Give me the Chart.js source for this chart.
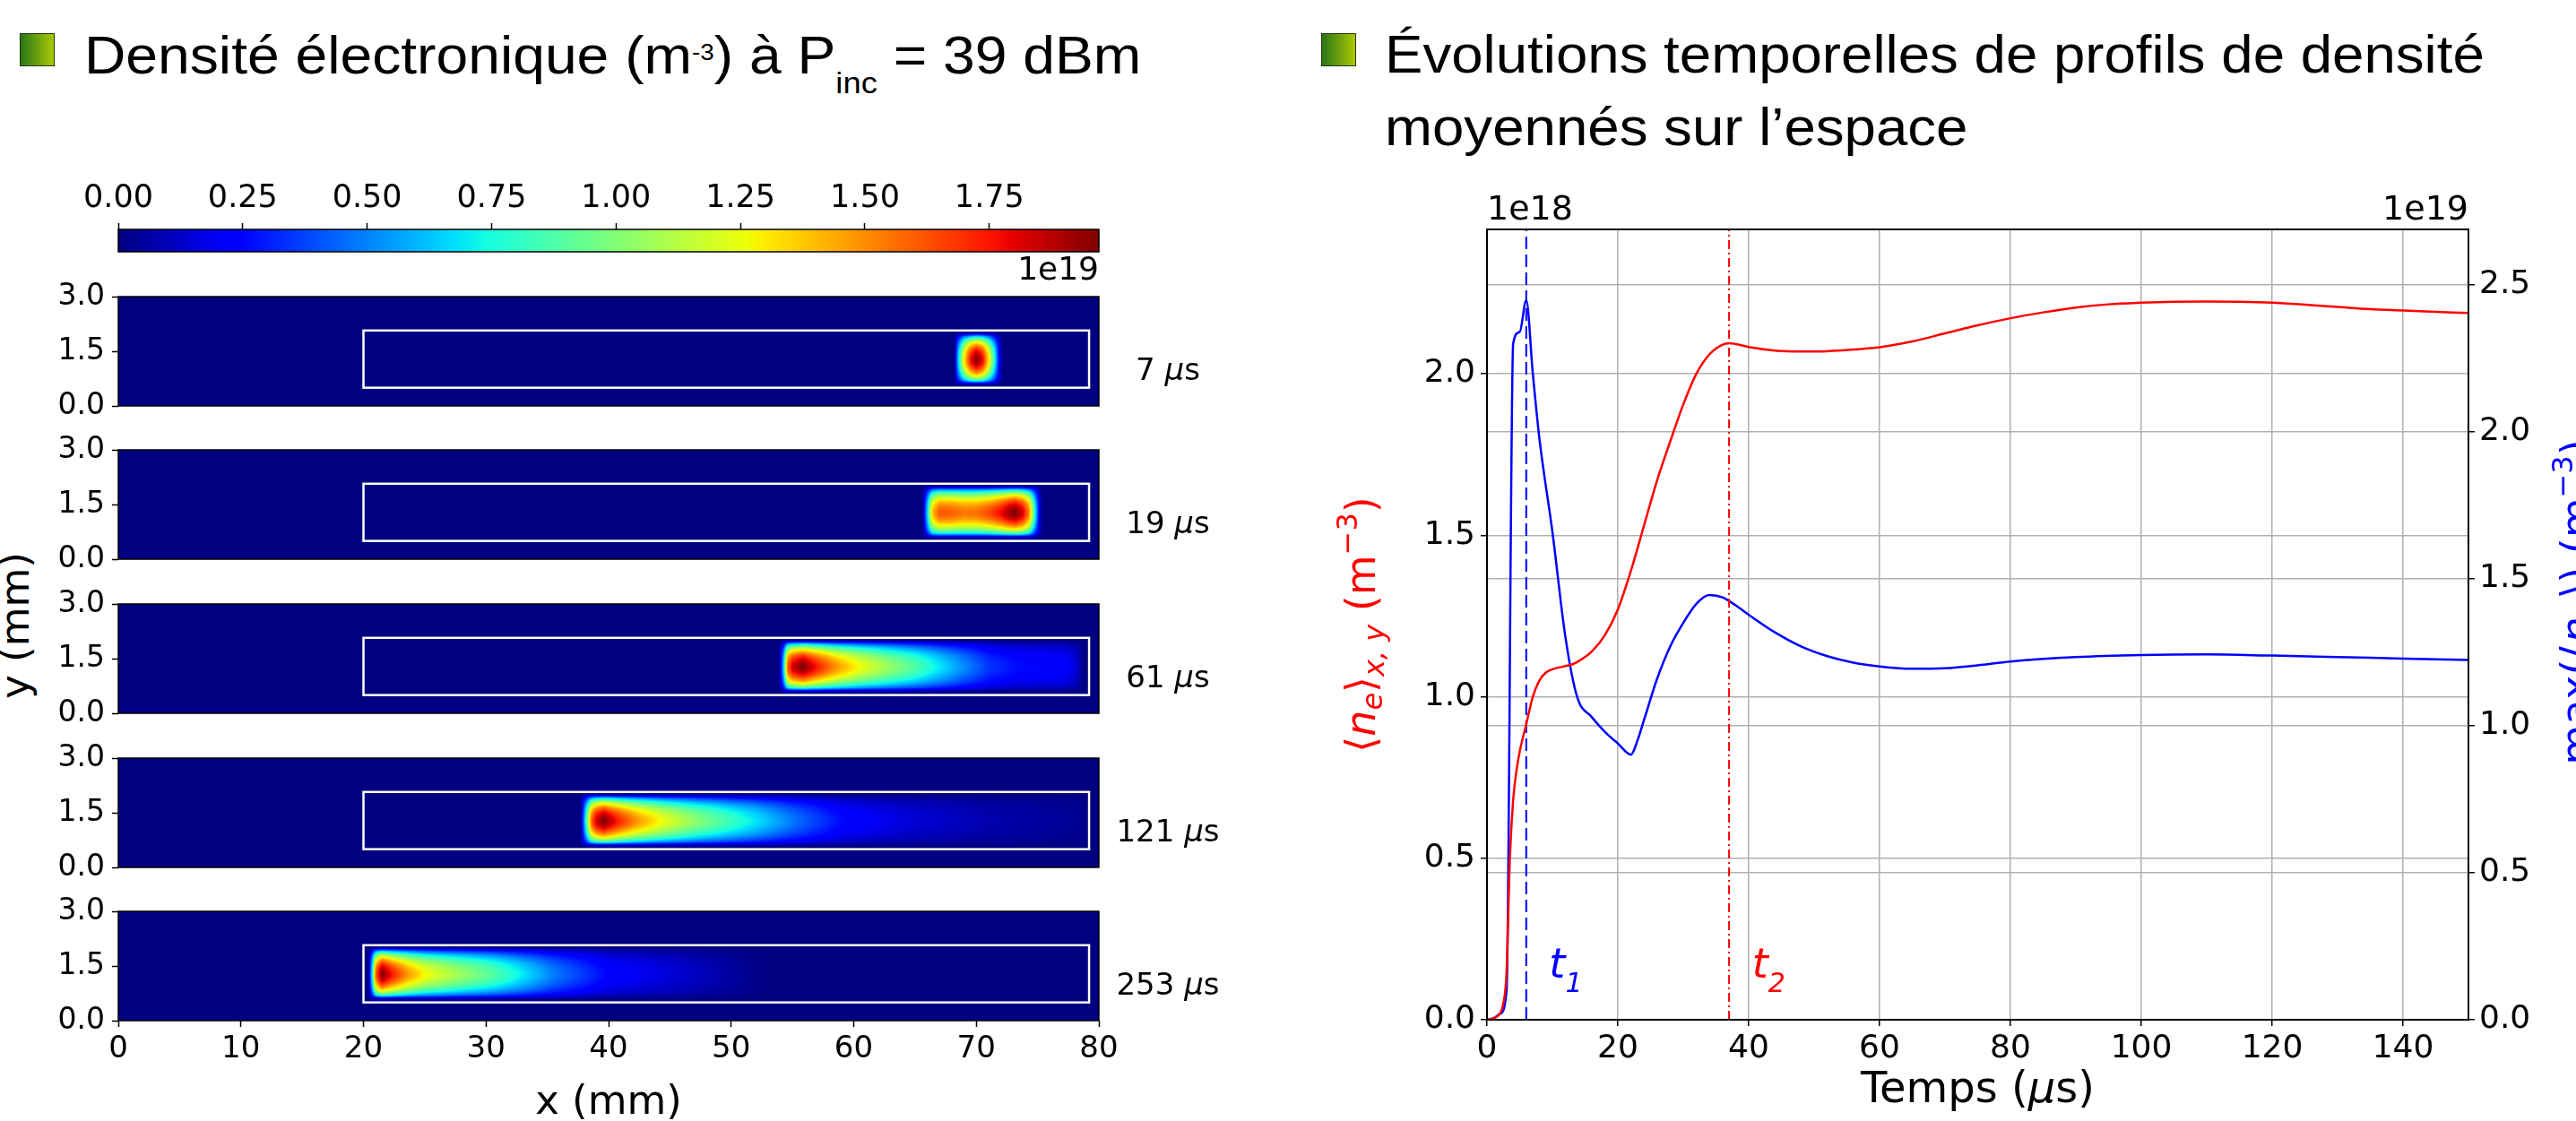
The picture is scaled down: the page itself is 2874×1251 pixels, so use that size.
<!DOCTYPE html>
<html>
<head>
<meta charset="utf-8">
<script src="https://cdn.jsdelivr.net/npm/chart.js@4.4.1/dist/chart.umd.min.js"></script>
<style>
  body { margin: 0; width: 2874px; height: 1251px; overflow: hidden; background: #fff; position: relative; font-family: 'Liberation Sans', Arial, sans-serif; }
  canvas { position: absolute; }
  .bullet { position: absolute; width: 37px; height: 35px; border: 1px solid #26330f; background: linear-gradient(to right, #2c761b, #a9c902); }
  .head { position: absolute; font-size: 60px; line-height: 81px; white-space: nowrap; color: #000; transform-origin: left top; }
  .sup { font-size: 26px; position: relative; top: -15px; }
  .sub { font-size: 34px; position: relative; top: 22px; color: #000; }
  .ylab { position: absolute; left: 16px; top: 698px; transform: translate(-50%, -50%) rotate(-90deg); font: 45px 'DejaVu Sans', sans-serif; white-space: nowrap; }
</style>
</head>
<body>
<div class="bullet" style="left:22px; top:37px;"></div>
<div class="head" style="left:94px; top:21px; transform:scaleX(1.07);">Densité électronique (m<span class="sup">-3</span>) à P<span class="sub">inc</span> = 39 dBm</div>
<div class="bullet" style="left:1474px; top:37px;"></div>
<div class="head" style="left:1545px; top:20px; transform:scaleX(1.06);">Évolutions temporelles de profils de densité<br>moyennés sur l’espace</div>
<div class="ylab">y (mm)</div>

<canvas id="colorbar" width="1400" height="150" style="left:0; top:180px; width:1400px; height:150px;"></canvas>
<canvas id="panel0" width="1400" height="182" style="left:0; top:301px; width:1400px; height:182px;"></canvas>
<canvas id="panel1" width="1400" height="182" style="left:0; top:472px; width:1400px; height:182px;"></canvas>
<canvas id="panel2" width="1400" height="182" style="left:0; top:644px; width:1400px; height:182px;"></canvas>
<canvas id="panel3" width="1400" height="182" style="left:0; top:816px; width:1400px; height:182px;"></canvas>
<canvas id="panel4" width="1400" height="264" style="left:0; top:987px; width:1400px; height:264px;"></canvas>
<canvas id="timeChart" width="1434" height="1071" style="left:1440px; top:180px; width:1434px; height:1071px;"></canvas>

<script>
// Colour scale (1e19 m^-3)
const colorMax = 1.97;
const colorTicks = [0, 0.25, 0.5, 0.75, 1.0, 1.25, 1.5, 1.75];

// Heatmap axes (mm)
const panelXTicks = [0, 10, 20, 30, 40, 50, 60, 70, 80];
const panelYTicks = [0, 1.5, 3.0];
const boxX = [20, 79.2];
const boxY = [0.5, 2.07];

// Vertical density profile across the guide (relative)
const profileY = [0.5, 0.6, 0.7, 0.8, 0.9, 1.0, 1.1, 1.2, 1.3, 1.4, 1.5, 1.6, 1.7, 1.8, 1.9, 2.0, 2.1];
const profileV = [0, 0.05, 0.42, 0.62, 0.76, 0.86, 0.94, 0.99, 1.0, 0.97, 0.92, 0.84, 0.72, 0.57, 0.35, 0.02, 0];

// Density along the axis for each snapshot (x in mm, n in 1e19 m^-3)
const x7us = [68.2, 68.5, 69.0, 69.5, 70.0, 70.5, 71.0, 71.5, 71.9, 72.2];
const n7us = [0, 0.6, 1.3, 1.75, 1.97, 1.8, 1.35, 0.75, 0.2, 0];
const x19us = [65.6, 66.0, 66.4, 67.0, 68, 69, 70, 71, 72, 72.7, 73.2, 73.8, 74.3, 74.8, 75.2, 75.5];
const n19us = [0, 0.65, 1.38, 1.62, 1.6, 1.55, 1.56, 1.64, 1.78, 1.92, 1.97, 1.82, 1.52, 0.74, 0.12, 0];
const x61us = [53.9, 54.3, 54.6, 55.0, 55.85, 57.1, 58.6, 60.5, 62.5, 64.9, 66.4, 68.6, 71.0, 73.5, 77.1, 78.1, 78.8];
const n61us = [0, 0.69, 1.58, 1.83, 1.97, 1.73, 1.48, 1.26, 1.08, 0.89, 0.75, 0.55, 0.35, 0.26, 0.24, 0.16, 0];
const x121us = [37.7, 38.1, 38.6, 39.0, 39.6, 40.8, 42.2, 44.3, 47.1, 49.9, 52.0, 55.1, 59.0, 63.8, 70.8, 77.7, 79.0, 79.3];
const n121us = [0, 0.69, 1.58, 1.83, 1.97, 1.73, 1.50, 1.26, 1.02, 0.83, 0.69, 0.47, 0.26, 0.16, 0.08, 0.04, 0.02, 0];
const x253us = [20.4, 20.7, 21.0, 21.5, 22.4, 23.6, 25.1, 27.6, 30.6, 32.6, 35.5, 39.8, 45.6, 50.8, 53];
const n253us = [0, 0.69, 1.58, 1.97, 1.73, 1.48, 1.26, 1.08, 0.89, 0.73, 0.49, 0.25, 0.14, 0.04, 0];

const panels = [
    { label: '7', xs: x7us, ns: n7us },
    { label: '19', xs: x19us, ns: n19us },
    { label: '61', xs: x61us, ns: n61us },
    { label: '121', xs: x121us, ns: n121us },
    { label: '253', xs: x253us, ns: n253us }
];

// Time evolution (t in µs)
const tMean = [0, 1, 2, 2.5, 3, 3.5, 4, 4.5, 5, 6, 7, 8, 9, 10, 12, 13, 14, 16, 18, 20, 22, 24, 26, 28, 30, 32, 34, 36, 37, 38, 40, 44, 48, 52, 56, 60, 65, 70, 75, 80, 85, 90, 95, 100, 105, 110, 115, 120, 125, 130, 135, 140, 145, 150];
const nMean = [0, 0.005, 0.02, 0.05, 0.15, 0.5, 0.68, 0.77, 0.83, 0.915, 1.0, 1.05, 1.075, 1.085, 1.095, 1.1, 1.11, 1.14, 1.19, 1.27, 1.39, 1.53, 1.67, 1.79, 1.905, 2.0, 2.06, 2.09, 2.095, 2.092, 2.083, 2.072, 2.069, 2.07, 2.075, 2.082, 2.1, 2.125, 2.15, 2.172, 2.19, 2.205, 2.215, 2.22, 2.223, 2.224, 2.223, 2.22, 2.214, 2.207, 2.2, 2.196, 2.192, 2.188];
const tMax = [0, 1, 2, 3, 4, 5, 6, 7, 8, 10, 12, 13.8, 16, 18, 20, 22, 23, 24, 26, 28, 30, 32, 34, 36, 38, 40, 44, 48, 52, 56, 60, 65, 70, 75, 80, 90, 100, 110, 120, 130, 140, 150];
const nMax = [0, 0.005, 0.02, 0.1, 2.3, 2.34, 2.448, 2.2, 1.98, 1.66, 1.3, 1.097, 1.03, 0.98, 0.94, 0.902, 0.95, 1.02, 1.16, 1.27, 1.35, 1.415, 1.445, 1.437, 1.41, 1.378, 1.318, 1.27, 1.237, 1.215, 1.202, 1.194, 1.196, 1.206, 1.219, 1.234, 1.241, 1.243, 1.239, 1.234, 1.229, 1.224];
const markerTimes = [6, 37];
const markerNames = ['1', '2'];
const timeTicks = [0, 20, 40, 60, 80, 100, 120, 140];
const meanTicks = [0, 0.5, 1.0, 1.5, 2.0];
const maxTicks = [0, 0.5, 1.0, 1.5, 2.0, 2.5];
const timeMax = 150;
const meanMax = 2.447;
const maxMax = 2.689;

Chart.defaults.font.family = "'DejaVu Sans', sans-serif";
Chart.defaults.color = '#000';

// matplotlib jet colormap
const jetR = [[0, 0], [0.35, 0], [0.66, 1], [0.89, 1], [1, 0.5]];
const jetG = [[0, 0], [0.125, 0], [0.375, 1], [0.64, 1], [0.91, 0], [1, 0]];
const jetB = [[0, 0.5], [0.11, 1], [0.34, 1], [0.65, 0], [1, 0]];
function channel(segs, v) {
    for (let i = 1; i < segs.length; i++) {
        if (v <= segs[i][0]) {
            const f = (v - segs[i - 1][0]) / (segs[i][0] - segs[i - 1][0]);
            return segs[i - 1][1] + f * (segs[i][1] - segs[i - 1][1]);
        }
    }
    return segs[segs.length - 1][1];
}
function jet(v) {
    v = Math.max(0, Math.min(1, v));
    return [channel(jetR, v) * 255, channel(jetG, v) * 255, channel(jetB, v) * 255];
}

function lookup(xs, vs, x) {
    if (x <= xs[0]) return vs[0];
    if (x >= xs[xs.length - 1]) return vs[vs.length - 1];
    for (let i = 1; i < xs.length; i++) {
        if (x <= xs[i]) {
            const f = (x - xs[i - 1]) / (xs[i] - xs[i - 1]);
            return vs[i - 1] + f * (vs[i] - vs[i - 1]);
        }
    }
    return 0;
}

// Draw text made of several pieces (italic, sub/superscripts)
function drawRich(ctx, parts, x, y, align) {
    let total = 0;
    parts.forEach(p => {
        ctx.font = (p.i ? 'italic ' : '') + p.s + "px 'DejaVu Sans'";
        p.w = ctx.measureText(p.t).width;
        total += p.w;
    });
    let cx = align === 'center' ? x - total / 2 : (align === 'right' ? x - total : x);
    ctx.textAlign = 'left';
    ctx.textBaseline = 'alphabetic';
    parts.forEach(p => {
        ctx.font = (p.i ? 'italic ' : '') + p.s + "px 'DejaVu Sans'";
        ctx.fillText(p.t, cx, y + (p.dy || 0));
        cx += p.w;
    });
}

function drawFrame(ctx, a, width) {
    ctx.save();
    ctx.strokeStyle = '#000';
    ctx.lineWidth = width;
    ctx.strokeRect(a.left, a.top, a.right - a.left, a.bottom - a.top);
    ctx.restore();
}

// Colorbar
const colorbarPlugin = {
    id: 'colorbar',
    beforeDatasetsDraw(chart) {
        const { ctx, chartArea: a, scales } = chart;
        for (let px = Math.floor(a.left); px < a.right; px++) {
            const c = jet(scales.x.getValueForPixel(px + 0.5) / colorMax);
            ctx.fillStyle = `rgb(${c[0]},${c[1]},${c[2]})`;
            ctx.fillRect(px, a.top, 1, a.bottom - a.top);
        }
        drawFrame(ctx, a, 1.5);
        ctx.save();
        ctx.fillStyle = '#000';
        ctx.font = "36px 'DejaVu Sans'";
        ctx.textAlign = 'right';
        ctx.textBaseline = 'middle';
        ctx.fillText('1e19', a.right, a.bottom + 22);
        ctx.restore();
    }
};

new Chart(document.getElementById('colorbar'), {
    type: 'scatter',
    data: { datasets: [] },
    options: {
        responsive: false, animation: false, devicePixelRatio: 1,
        layout: { padding: { top: 0, left: 132, right: 174, bottom: 49 } },
        plugins: { legend: { display: false }, tooltip: { enabled: false } },
        scales: {
            x: {
                type: 'linear', position: 'top', min: 0, max: colorMax,
                afterBuildTicks: s => { s.ticks = colorTicks.map(v => ({ value: v })); },
                afterFit: s => { s.height = 76; },
                ticks: { callback: v => v.toFixed(2), font: { size: 35 }, padding: 6, maxRotation: 0, autoSkip: false },
                grid: { drawOnChartArea: false, tickLength: 7, tickColor: '#000', tickWidth: 1.5 },
                border: { display: false }
            },
            y: { display: false, min: 0, max: 1 }
        }
    },
    plugins: [colorbarPlugin]
});

// Heatmap panels
const heatmapPlugin = {
    id: 'heatmap',
    beforeDatasetsDraw(chart, args, opts) {
        const p = panels[opts.panel];
        const { ctx, chartArea: a, scales } = chart;
        const w = Math.round(a.right - a.left), h = Math.round(a.bottom - a.top);
        const off = document.createElement('canvas');
        off.width = w;
        off.height = h;
        const octx = off.getContext('2d');
        const img = octx.createImageData(w, h);
        const col = [], row = [];
        for (let i = 0; i < w; i++) col.push(lookup(p.xs, p.ns, scales.x.getValueForPixel(a.left + i + 0.5)));
        for (let j = 0; j < h; j++) row.push(lookup(profileY, profileV, scales.y.getValueForPixel(a.top + j + 0.5)));
        for (let j = 0; j < h; j++) {
            for (let i = 0; i < w; i++) {
                const c = jet(col[i] * row[j] / colorMax);
                const k = (j * w + i) * 4;
                img.data[k] = c[0];
                img.data[k + 1] = c[1];
                img.data[k + 2] = c[2];
                img.data[k + 3] = 255;
            }
        }
        octx.putImageData(img, 0, 0);
        ctx.drawImage(off, a.left, a.top);

        // white guide outline
        const x0 = scales.x.getPixelForValue(boxX[0]), x1 = scales.x.getPixelForValue(boxX[1]);
        const y0 = scales.y.getPixelForValue(boxY[1]), y1 = scales.y.getPixelForValue(boxY[0]);
        ctx.save();
        ctx.strokeStyle = '#fff';
        ctx.lineWidth = 2.5;
        ctx.strokeRect(x0, y0, x1 - x0, y1 - y0);
        ctx.restore();
        drawFrame(ctx, a, 1.5);
    },
    afterDraw(chart, args, opts) {
        const p = panels[opts.panel];
        const { ctx, chartArea: a, scales } = chart;
        ctx.save();
        ctx.fillStyle = '#000';
        drawRich(ctx, [
            { t: p.label + ' ', s: 34 },
            { t: 'μ', s: 34, i: true },
            { t: 's', s: 34 }
        ], a.right + 77, scales.y.getPixelForValue(1.0) + 12, 'center');
        if (opts.panel === panels.length - 1) {
            drawRich(ctx, [{ t: 'x (mm)', s: 45 }], (a.left + a.right) / 2, a.bottom + 104, 'center');
        }
        ctx.restore();
    }
};

panels.forEach((p, i) => {
    const last = i === panels.length - 1;
    new Chart(document.getElementById('panel' + i), {
        type: 'scatter',
        data: { datasets: [] },
        options: {
            responsive: false, animation: false, devicePixelRatio: 1,
            layout: { padding: { top: 30, left: 0, right: 174, bottom: last ? 0 : 30 } },
            plugins: { legend: { display: false }, tooltip: { enabled: false }, heatmap: { panel: i } },
            scales: {
                x: {
                    type: 'linear', min: 0, max: 80, display: last,
                    afterBuildTicks: s => { s.ticks = panelXTicks.map(v => ({ value: v })); },
                    afterFit: s => { s.height = last ? 112 : 0; },
                    ticks: { font: { size: 34 }, padding: 5, maxRotation: 0, autoSkip: false },
                    grid: { drawOnChartArea: false, tickLength: 7, tickColor: '#000', tickWidth: 1.5 },
                    border: { display: false }
                },
                y: {
                    min: 0, max: 3,
                    afterBuildTicks: s => { s.ticks = panelYTicks.map(v => ({ value: v })); },
                    afterFit: s => { s.width = 132; },
                    ticks: { callback: v => v.toFixed(1), font: { size: 33 }, padding: 8, autoSkip: false },
                    grid: { drawOnChartArea: false, tickLength: 7, tickColor: '#000', tickWidth: 1.5 },
                    border: { display: false }
                }
            }
        },
        plugins: [heatmapPlugin]
    });
});

// Time evolution chart
const timeTextPlugin = {
    id: 'timeText',
    afterDatasetsDraw(chart) {
        drawFrame(chart.ctx, chart.chartArea, 2);
    },
    afterDraw(chart) {
        const { ctx, chartArea: a, scales } = chart;
        ctx.save();
        ctx.fillStyle = '#000';
        ctx.font = "38px 'DejaVu Sans'";
        ctx.textBaseline = 'middle';
        ctx.textAlign = 'left';
        ctx.fillText('1e18', a.left, a.top - 21);
        ctx.textAlign = 'right';
        ctx.fillText('1e19', a.right, a.top - 21);

        drawRich(ctx, [
            { t: 'Temps (', s: 48 },
            { t: 'μ', s: 48, i: true },
            { t: 's)', s: 48 }
        ], (a.left + a.right) / 2, a.bottom + 92, 'center');

        // marker labels t1, t2
        const markerColors = ['#0000ff', '#ff0000'];
        markerTimes.forEach((t, i) => {
            ctx.fillStyle = markerColors[i];
            drawRich(ctx, [
                { t: 't', s: 46, i: true },
                { t: markerNames[i], s: 30, i: true, dy: 16 }
            ], scales.x.getPixelForValue(t + 3.5), scales.y.getPixelForValue(0.13), 'left');
        });

        // left axis title
        ctx.save();
        ctx.fillStyle = '#ff0000';
        ctx.translate(a.left - 125, (a.top + a.bottom) / 2);
        ctx.rotate(-Math.PI / 2);
        drawRich(ctx, [
            { t: '⟨', s: 46 },
            { t: 'n', s: 46, i: true },
            { t: 'e', s: 32, i: true, dy: 8 },
            { t: '⟩', s: 46 },
            { t: 'x, y', s: 32, i: true, dy: 10 },
            { t: ' (m', s: 46 },
            { t: '−3', s: 32, dy: -20 },
            { t: ')', s: 46 }
        ], 0, 0, 'center');
        ctx.restore();

        // right axis title
        ctx.save();
        ctx.fillStyle = '#0000ff';
        ctx.translate(a.right + 136, (a.top + a.bottom) / 2 - 25);
        ctx.rotate(-Math.PI / 2);
        drawRich(ctx, [
            { t: 'max(⟨', s: 46 },
            { t: 'n', s: 46, i: true },
            { t: 'e', s: 32, i: true, dy: 8 },
            { t: '⟩) (m', s: 46 },
            { t: '−3', s: 32, dy: -20 },
            { t: ')', s: 46 }
        ], 0, 0, 'center');
        ctx.restore();
        ctx.restore();
    }
};

const gridStyle = { color: '#b0b0b0', lineWidth: 1.5, tickLength: 7, tickColor: '#000', tickWidth: 1.5 };

new Chart(document.getElementById('timeChart'), {
    type: 'scatter',
    data: {
        datasets: [
            {
                label: 'mean',
                data: tMean.map((t, i) => ({ x: t, y: nMean[i] })),
                yAxisID: 'y', showLine: true, borderColor: '#ff0000', borderWidth: 2.5,
                pointRadius: 0, cubicInterpolationMode: 'monotone'
            },
            {
                label: 't1',
                data: [{ x: markerTimes[0], y: 0 }, { x: markerTimes[0], y: meanMax }],
                yAxisID: 'y', showLine: true, borderColor: '#0000ff', borderWidth: 2,
                borderDash: [14, 6], pointRadius: 0
            },
            {
                label: 't2',
                data: [{ x: markerTimes[1], y: 0 }, { x: markerTimes[1], y: meanMax }],
                yAxisID: 'y', showLine: true, borderColor: '#ff0000', borderWidth: 2,
                borderDash: [10, 4, 2, 4], pointRadius: 0
            },
            {
                label: 'max',
                data: tMax.map((t, i) => ({ x: t, y: nMax[i] })),
                yAxisID: 'y1', showLine: true, borderColor: '#0000ff', borderWidth: 2.5,
                pointRadius: 0, cubicInterpolationMode: 'monotone'
            }
        ]
    },
    options: {
        responsive: false, animation: false, devicePixelRatio: 1,
        layout: { padding: { top: 76, left: 0, right: 0, bottom: 0 } },
        plugins: { legend: { display: false }, tooltip: { enabled: false } },
        scales: {
            x: {
                type: 'linear', min: 0, max: timeMax,
                afterBuildTicks: s => { s.ticks = timeTicks.map(v => ({ value: v })); },
                afterFit: s => { s.height = 113; },
                ticks: { font: { size: 36 }, padding: 4, maxRotation: 0, autoSkip: false },
                grid: gridStyle,
                border: { display: false }
            },
            y: {
                position: 'left', min: 0, max: meanMax,
                afterBuildTicks: s => { s.ticks = meanTicks.map(v => ({ value: v })); },
                afterFit: s => { s.width = 219; },
                ticks: { callback: v => v.toFixed(1), font: { size: 36 }, padding: 6, autoSkip: false },
                grid: gridStyle,
                border: { display: false }
            },
            y1: {
                position: 'right', min: 0, max: maxMax,
                afterBuildTicks: s => { s.ticks = maxTicks.map(v => ({ value: v })); },
                afterFit: s => { s.width = 120; },
                ticks: { callback: v => v.toFixed(1), font: { size: 36 }, padding: 5, autoSkip: false },
                grid: gridStyle,
                border: { display: false }
            }
        }
    },
    plugins: [timeTextPlugin]
});
</script>
</body>
</html>
